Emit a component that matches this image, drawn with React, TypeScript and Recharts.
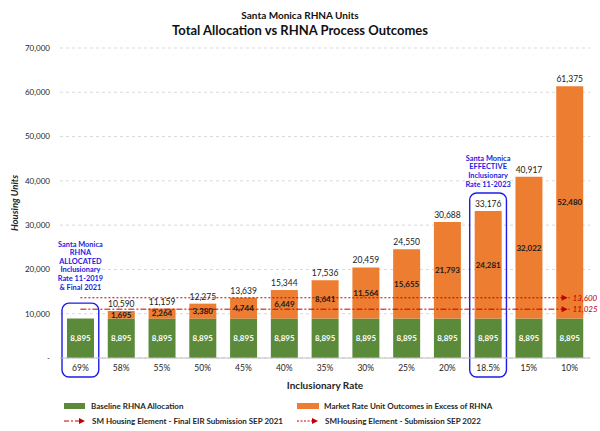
import React from 'react';
import {
  ComposedChart, Bar, Line, XAxis, YAxis, CartesianGrid, LabelList, ReferenceArea,
} from 'recharts';

const RATES = ['69%', '58%', '55%', '50%', '45%', '40%', '35%', '30%', '25%', '20%', '18.5%', '15%', '10%'];
const BASELINE = [8895, 8895, 8895, 8895, 8895, 8895, 8895, 8895, 8895, 8895, 8895, 8895, 8895];
const MARKET = [0, 1695, 2264, 3380, 4744, 6449, 8641, 11564, 15655, 21793, 24281, 32022, 52480];
const TOTALS = [8895, 10590, 11159, 12275, 13639, 15344, 17536, 20459, 24550, 30688, 33176, 40917, 61375];
const EIR_2021 = 11025;
const SUB_2022 = 13600;
const Y_TICKS = [0, 10000, 20000, 30000, 40000, 50000, 60000, 70000];

const ALLOCATED_NOTE = ['Santa Monica', 'RHNA', 'ALLOCATED', 'Inclusionary', 'Rate 11-2019', '& Final 2021'];
const EFFECTIVE_NOTE = ['Santa Monica', 'EFFECTIVE', 'Inclusionary', 'Rate 11-2023'];

const GREEN = '#5b8a3a';
const ORANGE = '#ed7d31';
const RED = '#c00000';
const BLUE = '#1c1ce6';
const FONT = 'Lato, "Open Sans", sans-serif';

const data = RATES.map((rate, i) => ({
  rate,
  baseline: BASELINE[i],
  market: MARKET[i],
  total: TOTALS[i],
  eir: EIR_2021,
  sub: SUB_2022,
}));

const fmt = (v: number) => v.toLocaleString('en-US');

// rounded outline round a category, with the blue note above it
const boxShape = (lines: string[], gap: number) => (props: any) => {
  const { x, y, width, height } = props;
  const cx = x + width / 2;
  const lh = 8.6;
  const first = y - gap - (lines.length - 1) * lh;
  return (
    <g>
      <rect x={x + 2} y={y} width={width - 4} height={height + 19} rx={7} ry={7}
        fill="none" stroke={BLUE} strokeWidth={1.4} />
      {lines.map((t, i) => (
        <text key={i} x={cx} y={first + i * lh} textAnchor="middle" dominantBaseline="central"
          fill={BLUE} style={{ fontSize: 7.4, fontWeight: 700, fontFamily: FONT }}>{t}</text>
      ))}
    </g>
  );
};

const endMarker = (label: string) => (props: any) => {
  const { cx, cy, index } = props;
  if (index !== RATES.length - 1) return <g key={`d${index}`} />;
  const ax = cx - 5;
  return (
    <g key={`d${index}`}>
      <path d={`M${ax - 3},${cy - 3} L${ax + 3},${cy} L${ax - 3},${cy + 3} Z`} fill={RED} />
      <text x={ax + 8} y={cy} dominantBaseline="central" fill={RED}
        style={{ fontSize: 8, fontStyle: 'italic', fontFamily: FONT }}>{label}</text>
    </g>
  );
};

const LineSwatch = ({ dash }: { dash: string }) => (
  <svg width={22} height={8} style={{ marginRight: 6 }}>
    <line x1={0} y1={4} x2={16} y2={4} stroke={RED} strokeWidth={1} strokeDasharray={dash} />
    <path d="M15,1 L21,4 L15,7 Z" fill={RED} />
  </svg>
);

const legendText: React.CSSProperties = { fontSize: 8, fontWeight: 700, color: '#262626' };

export default function App() {
  return (
    <div style={{ position: 'relative', width: 600, height: 431, background: '#fff', fontFamily: FONT }}>
      <style>{'body{margin:0}'}</style>
      <div style={{ position: 'absolute', top: 9, width: 600, textAlign: 'center', fontSize: 10, fontWeight: 700, color: '#111' }}>
        Santa Monica RHNA Units
      </div>
      <div style={{ position: 'absolute', top: 22, width: 600, textAlign: 'center', fontSize: 13, fontWeight: 700, color: '#111' }}>
        Total Allocation vs RHNA Process Outcomes
      </div>

      <ComposedChart width={600} height={431} data={data}
        margin={{ top: 48, right: 10, left: 0, bottom: 41 }}>
        <CartesianGrid vertical={false} strokeDasharray="3 3" stroke="#d9d9d9" />
        <XAxis dataKey="rate" axisLine={{ stroke: '#bfbfbf' }} tickLine={false} tickSize={0} tickMargin={7}
          height={32} tick={{ fontSize: 8.5, fill: '#262626', fontFamily: FONT }}
          label={{ value: 'Inclusionary Rate', position: 'insideBottom', offset: 1,
            style: { fontSize: 10, fontWeight: 700, fill: '#262626', fontFamily: FONT } }} />
        <YAxis domain={[0, 70000]} ticks={Y_TICKS} width={60} axisLine={false} tickLine={false}
          tickSize={0} tickMargin={10} tickFormatter={(v: number) => (v === 0 ? '-' : fmt(v))}
          tick={{ fontSize: 8, fill: '#262626', fontFamily: FONT }}
          label={{ value: 'Housing Units', angle: -90, position: 'insideLeft', offset: 15,
            style: { fontSize: 9.5, fontWeight: 700, fontStyle: 'italic', fill: '#262626', fontFamily: FONT, textAnchor: 'middle' } }} />

        <Bar dataKey="baseline" stackId="a" fill={GREEN} barSize={27} isAnimationActive={false}>
          <LabelList dataKey="baseline" position="center" formatter={(v: any) => fmt(Number(v))}
            style={{ fontSize: 8, fontWeight: 700, fill: '#fff', fontFamily: FONT }} />
        </Bar>
        <Bar dataKey="market" stackId="a" fill={ORANGE} barSize={27} isAnimationActive={false}>
          <LabelList dataKey="market" position="center" formatter={(v: any) => (Number(v) ? fmt(Number(v)) : '')}
            style={{ fontSize: 8, fontWeight: 700, fill: '#1a1a1a', fontFamily: FONT }} />
          <LabelList dataKey="total" position="top" offset={4} formatter={(v: any) => fmt(Number(v))}
            style={{ fontSize: 8.5, fill: '#1a1a1a', fontFamily: FONT }} />
        </Bar>

        <Line dataKey="sub" stroke={RED} strokeWidth={1} strokeDasharray="2 2" type="linear"
          dot={endMarker(fmt(SUB_2022))} activeDot={false} isAnimationActive={false} />
        <Line dataKey="eir" stroke={RED} strokeWidth={1} strokeDasharray="6 2 2 2" type="linear"
          dot={endMarker(fmt(EIR_2021))} activeDot={false} isAnimationActive={false} />

        <ReferenceArea x1="69%" x2="69%" y1={0} y2={12400} ifOverflow="visible"
          shape={boxShape(ALLOCATED_NOTE, 16)} />
        <ReferenceArea x1="18.5%" x2="18.5%" y1={0} y2={37250} ifOverflow="visible"
          shape={boxShape(EFFECTIVE_NOTE, 9)} />
      </ComposedChart>

      <div style={{ position: 'absolute', left: 64, top: 401, display: 'flex', alignItems: 'center' }}>
        <span style={{ width: 21, height: 6, background: GREEN, marginRight: 6 }} />
        <span style={legendText}>Baseline RHNA Allocation</span>
      </div>
      <div style={{ position: 'absolute', left: 297, top: 401, display: 'flex', alignItems: 'center' }}>
        <span style={{ width: 22, height: 6, background: ORANGE, marginRight: 5 }} />
        <span style={legendText}>Market Rate Unit Outcomes in Excess of RHNA</span>
      </div>
      <div style={{ position: 'absolute', left: 64, top: 416, display: 'flex', alignItems: 'center' }}>
        <LineSwatch dash="5 2 2 2" />
        <span style={legendText}>SM Housing Element - Final EIR Submission SEP 2021</span>
      </div>
      <div style={{ position: 'absolute', left: 297, top: 416, display: 'flex', alignItems: 'center' }}>
        <LineSwatch dash="2 1.5" />
        <span style={legendText}>SMHousing Element - Submission SEP 2022</span>
      </div>
    </div>
  );
}
